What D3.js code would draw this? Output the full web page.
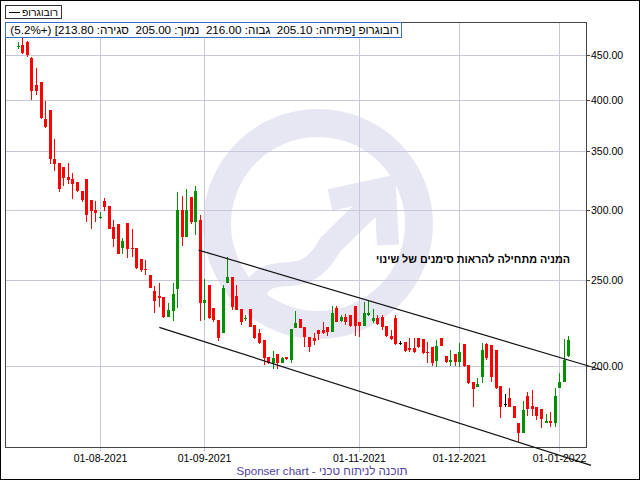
<!DOCTYPE html>
<html><head><meta charset="utf-8">
<script src="https://cdn.jsdelivr.net/npm/d3@7/dist/d3.min.js"></script>
<style>body{margin:0;background:#fff}svg{display:block}text{font-family:"Liberation Sans",Arial,sans-serif}</style>
</head><body>
<svg id="c" width="640" height="480"></svg>
<script>
const dates = [
"2021-07-06","2021-07-07","2021-07-08","2021-07-11","2021-07-12","2021-07-13","2021-07-14","2021-07-15","2021-07-18","2021-07-19","2021-07-20","2021-07-21","2021-07-22","2021-07-25","2021-07-26","2021-07-27","2021-07-28","2021-07-29",
"2021-08-01","2021-08-02","2021-08-03","2021-08-04","2021-08-05","2021-08-08","2021-08-09","2021-08-10","2021-08-11","2021-08-12","2021-08-15","2021-08-16","2021-08-17","2021-08-18","2021-08-19","2021-08-22","2021-08-23","2021-08-24","2021-08-25","2021-08-26","2021-08-29","2021-08-30","2021-08-31",
"2021-09-01","2021-09-02","2021-09-05","2021-09-09","2021-09-12","2021-09-13","2021-09-14","2021-09-19","2021-09-22","2021-09-23","2021-09-26","2021-09-29","2021-09-30",
"2021-10-03","2021-10-04","2021-10-05","2021-10-06","2021-10-07","2021-10-10","2021-10-11","2021-10-12","2021-10-13","2021-10-14","2021-10-17","2021-10-18","2021-10-19","2021-10-20","2021-10-21","2021-10-24","2021-10-25","2021-10-26","2021-10-27","2021-10-28","2021-10-31",
"2021-11-01","2021-11-02","2021-11-03","2021-11-04","2021-11-07","2021-11-08","2021-11-09","2021-11-10","2021-11-11","2021-11-14","2021-11-15","2021-11-16","2021-11-17","2021-11-18","2021-11-21","2021-11-22","2021-11-23","2021-11-24","2021-11-25","2021-11-28","2021-11-29","2021-11-30",
"2021-12-01","2021-12-02","2021-12-05","2021-12-06","2021-12-07","2021-12-08","2021-12-09","2021-12-12","2021-12-13","2021-12-14","2021-12-15","2021-12-16","2021-12-19","2021-12-20","2021-12-21","2021-12-22","2021-12-23","2021-12-26","2021-12-27","2021-12-28","2021-12-29","2021-12-30",
"2022-01-02","2022-01-03","2022-01-04"];
const opens = [460.4,461.4,464.6,446.4,415.8,419.0,380.5,389.5,342.6,339.4,335.8,327.2,325.5,322.9,315.5,325.5,308.2,300.2,294.8,307.6,303.4,287.2,289.5,272.2,290.2,272.2,272.2,264.3,257.7,253.5,243.2,240.0,239.2,227.4,231.0,244.4,300.0,280.1,310.4,291.2,292.5,
235.8,247.0,232.4,225.5,217.8,248.1,252.2,240.0,231.8,225.9,231.8,222.6,217.8,214.0,204.5,201.4,206.2,201.7,204.5,203.1,220.7,226.1,221.6,215.9,215.3,219.7,219.7,221.6,218.7,232.4,224.9,227.4,228.4,233.9,224.0,222.0,228.4,224.6,226.6,227.5,222.0,216.4,226.6,
212.2,213.1,209.4,209.4,214.9,214.6,207.6,210.3,202.8,214.9,205.3,202.2,206.2,202.2,211.8,200.5,192.0,189.5,194.2,211.6,211.2,208.5,189.9,181.0,183.9,180.2,172.3,168.1,185.0,180.2,179.9,178.6,172.3,173.4,172.3,188.7,192.0,205.1];
const highs = [464.6,471.0,466.6,447.2,434.6,419.0,398.8,389.5,361.3,339.4,335.8,339.4,330.6,322.9,315.5,325.5,308.2,307.6,298.9,309.6,303.4,292.5,289.5,278.9,290.2,285.7,272.2,264.3,263.4,253.5,246.4,248.5,239.2,235.4,248.1,314.7,311.2,317.1,310.4,319.6,296.3,
250.7,247.0,232.4,225.5,247.0,265.9,252.2,247.0,231.8,228.4,231.8,222.6,220.1,214.0,204.5,208.0,206.2,204.5,204.8,220.1,230.8,226.1,221.6,215.9,217.8,219.7,224.5,221.6,233.9,233.9,228.3,228.9,228.4,233.9,224.0,236.0,237.5,232.0,228.4,228.4,222.0,219.7,228.4,
213.4,213.1,214.9,214.9,214.9,214.6,213.1,210.3,214.0,214.9,205.3,208.5,206.2,212.2,211.8,200.5,192.0,193.7,212.2,212.2,211.2,208.5,189.9,185.8,188.7,180.2,172.3,182.6,187.1,187.9,179.9,178.6,176.5,177.3,189.0,196.5,214.3,216.0];
const lows = [456.6,450.4,447.2,399.8,405.1,380.8,372.0,338.7,332.6,314.7,319.9,321.5,309.0,314.7,306.8,291.2,285.5,291.2,293.0,299.7,285.5,272.7,268.0,268.0,265.2,265.7,257.5,255.3,253.5,244.9,229.8,233.4,226.4,227.4,225.1,232.8,273.4,280.1,289.5,281.3,225.1,
225.5,226.1,224.5,213.5,217.8,248.1,231.4,231.4,222.6,225.1,221.6,214.4,211.8,200.5,200.9,198.4,198.3,201.4,203.1,201.7,220.7,221.0,210.3,207.6,211.2,214.0,217.4,216.4,218.7,224.5,224.5,222.6,221.6,216.3,215.9,222.0,227.8,223.8,222.6,219.4,215.5,214.0,211.5,
211.0,207.3,207.6,206.7,209.4,206.2,201.7,200.0,199.7,210.7,201.4,200.0,200.0,199.7,199.7,190.7,179.9,189.5,191.5,203.1,192.0,188.4,174.8,179.6,179.9,174.6,164.2,168.1,175.6,175.6,173.8,170.3,172.3,170.8,170.8,188.7,192.0,205.0];
const closes = [460.6,451.9,449.5,409.7,409.7,381.8,373.0,343.2,338.7,317.4,326.6,324.9,321.5,315.2,308.4,296.1,299.7,298.1,295.0,302.8,285.5,278.6,268.0,277.2,271.4,271.4,258.4,256.6,256.6,245.3,237.1,238.8,227.4,231.2,241.3,300.0,280.1,300.0,290.8,315.5,235.8,
237.5,226.5,225.5,215.0,245.3,252.4,233.4,231.4,224.5,226.8,221.6,215.0,212.2,204.0,201.4,204.0,201.4,204.0,203.5,220.1,223.6,221.0,215.5,210.3,213.5,217.2,217.8,218.7,229.4,224.5,227.4,224.5,222.0,222.0,222.0,229.4,229.3,226.6,223.2,221.6,216.1,214.6,212.0,
212.2,208.1,208.5,207.6,210.0,206.9,206.7,201.4,210.7,210.7,202.2,203.1,202.2,207.4,200.0,191.2,188.4,190.8,208.5,204.0,194.5,188.7,179.9,181.0,179.9,174.8,168.1,178.3,178.6,178.6,175.6,174.1,173.4,172.3,185.0,192.0,203.2,213.8];
const yTicks = [200, 250, 300, 350, 400, 450];
const xTickDates = ["2021-08-01","2021-09-01","2021-11-01","2021-12-01","2022-01-02"];
const xTickLabels = ["01-08-2021","01-09-2021","01-11-2021","01-12-2021","01-01-2022"];
// trend lines: [start index, start price, end index, end price]
const trendLines = [[39.7, 270.5, 128.4, 197.9], [31.1, 221.2, 126.0, 154.4]];
const seriesName = "רובוגרופ";
const noteText = "המניה מתחילה להראות סימנים של שינוי";
const footerText = "Sponser chart - תוכנה לניתוח טכני";

const svg = d3.select("#c");
const P = {l: 5, t: 22, r: 586, b: 447};
const x = d3.scalePoint().domain(dates).range([17.8, 17.8 + (dates.length - 1) * 4.55]);
const y = d3.scaleLog().domain([161.96, 489.9]).range([P.b, P.t]);
const step = x.step();
const xi = i => x(dates[0]) + i * step;
function fit(t, w) {
  const L = t.node().getComputedTextLength();
  const fs = parseFloat(t.attr("font-size"));
  if (L > 0) t.attr("font-size", (fs * w / L).toFixed(2) + "px");
  return t;
}

svg.append("rect").attr("x", 0).attr("y", 0).attr("width", 640).attr("height", 480).attr("fill", "#fff");

// watermark
const wm = svg.append("g").attr("fill", "none").attr("stroke", "#e7e7f3");
wm.append("circle").attr("cx", 318).attr("cy", 224).attr("r", 101).attr("stroke-width", 28);
wm.append("path").attr("d", "M250,300 C270,250 300,300 330,245 L378,198").attr("stroke-width", 24);
wm.append("path").attr("d", "M330,200 L385,188 L388,245").attr("stroke-width", 22);

// grid
const grid = svg.append("g").attr("stroke", "#c8c8dc").attr("shape-rendering", "crispEdges");
yTicks.forEach(v => grid.append("line").attr("x1", P.l).attr("x2", P.r).attr("y1", Math.round(y(v)) + 0.5).attr("y2", Math.round(y(v)) + 0.5));
xTickDates.forEach(d => grid.append("line").attr("x1", Math.round(x(d)) + 0.5).attr("x2", Math.round(x(d)) + 0.5).attr("y1", P.t).attr("y2", P.b + 5));

// frame
svg.append("rect").attr("x", P.l + 0.5).attr("y", P.t + 0.5).attr("width", P.r - P.l).attr("height", P.b - P.t)
  .attr("fill", "none").attr("stroke", "#444").attr("shape-rendering", "crispEdges");

// candles
const cg = svg.append("g").attr("shape-rendering", "crispEdges");
dates.forEach((d, i) => {
  const o = opens[i], c = closes[i], h = highs[i], l = lows[i];
  const col = c > o ? "#009000" : (c < o ? "#ff0000" : "#000");
  const cx = Math.round(x(d));
  const yh = Math.round(y(h)), yl = Math.round(y(l));
  cg.append("rect").attr("x", cx).attr("y", yh).attr("width", 1).attr("height", Math.max(1, yl - yh)).attr("fill", col);
  const yt = Math.round(y(Math.max(o, c))), yb = Math.round(y(Math.min(o, c)));
  cg.append("rect").attr("x", cx - 1).attr("y", yt).attr("width", 3).attr("height", Math.max(1, yb - yt)).attr("fill", col);
});

// trend lines
trendLines.forEach(t => svg.append("line").attr("x1", xi(t[0])).attr("y1", y(t[1])).attr("x2", xi(t[2])).attr("y2", y(t[3]))
  .attr("stroke", "#111").attr("stroke-width", 1.2));

// y axis
const ya = svg.append("g");
yTicks.forEach(v => {
  const yy = Math.round(y(v)) + 0.5;
  ya.append("line").attr("x1", P.r).attr("x2", P.r + 4).attr("y1", yy).attr("y2", yy).attr("stroke", "#444");
  ya.append("text").attr("x", P.r + 5).attr("y", yy).attr("dy", "0.35em").attr("font-size", "10.5px").attr("fill", "#000").text(d3.format(".2f")(v));
});
// x axis labels
xTickDates.forEach((d, k) => svg.append("text").attr("x", Math.round(x(d)) + 0.5).attr("y", 462).attr("text-anchor", "middle")
  .attr("font-size", "10.5px").attr("fill", "#000").text(xTickLabels[k]));

// legend box
svg.append("rect").attr("x", 5.5).attr("y", 5.5).attr("width", 56).attr("height", 13).attr("fill", "#fff").attr("stroke", "#333");
svg.append("line").attr("x1", 9).attr("x2", 20).attr("y1", 12.5).attr("y2", 12.5).attr("stroke", "#000");
fit(svg.append("text").attr("x", 58).attr("y", 16).attr("text-anchor", "end").attr("font-size", "12px").text(seriesName), 36);

// header box
const n = dates.length - 1;
const pct = (closes[n] / closes[n - 1] - 1) * 100;
const f2 = d3.format(".2f");
const header = `${seriesName} [פתיחה: ${f2(opens[n])}  גבוה: ${f2(highs[n])}  נמוך: ${f2(lows[n])}  סגירה: ${f2(closes[n])}] (+${d3.format(".1f")(pct)}%)`;
svg.append("rect").attr("x", 5.5).attr("y", 22.5).attr("width", 396).attr("height", 15).attr("fill", "#fff").attr("stroke", "#3a6cc8");
fit(svg.append("text").attr("x", 399).attr("y", 34).attr("direction", "rtl").attr("text-anchor", "start")
  .style("white-space", "pre").attr("font-size", "12px").attr("fill", "#000").text(header), 389);

// note
fit(svg.append("text").attr("x", 570).attr("y", 263).attr("text-anchor", "end").attr("font-size", "10px").attr("font-weight", "bold").text(noteText), 194);

// footer
fit(svg.append("text").attr("x", 322).attr("y", 475).attr("text-anchor", "middle").attr("font-size", "13px").attr("fill", "#5040a0").text(footerText), 171);

// outer border
svg.append("rect").attr("x", 0.5).attr("y", 0.5).attr("width", 639).attr("height", 479).attr("fill", "none").attr("stroke", "#000");
</script>
</body></html>
